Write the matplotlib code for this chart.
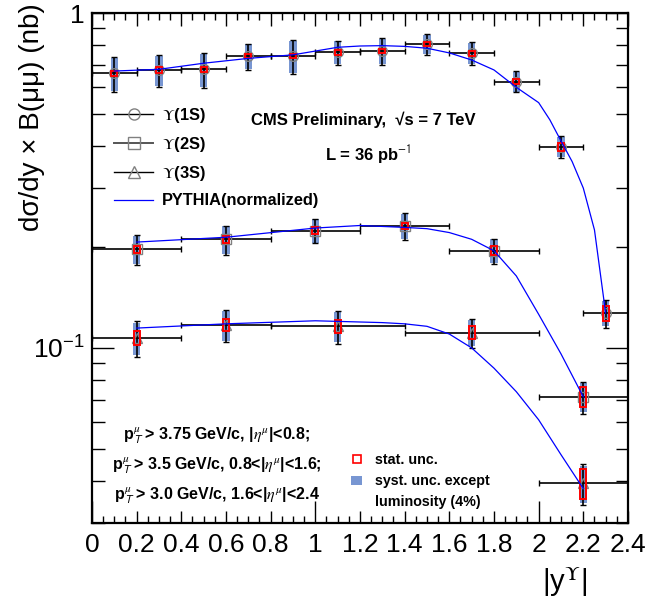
import matplotlib.pyplot as plt
import numpy as np
from matplotlib.lines import Line2D
from matplotlib.patches import Patch
from matplotlib.ticker import FixedLocator, LogLocator, NullFormatter

plt.rcParams['font.family'] = ['Liberation Sans', 'DejaVu Sans']
plt.rcParams['mathtext.fontset'] = 'stix'

# Upsilon(1S): bins of 0.2 in |y|
x_1s = [0.1, 0.3, 0.5, 0.7, 0.9, 1.1, 1.3, 1.5, 1.7, 1.9, 2.1, 2.3]
xerr_1s = [0.1] * 12
y_1s = [0.661, 0.676, 0.679, 0.744, 0.744, 0.763, 0.770, 0.808, 0.758, 0.624, 0.398, 0.127]
err_1s = [0.080, 0.075, 0.080, 0.066, 0.085, 0.064, 0.070, 0.058, 0.060, 0.045, 0.030, 0.012]
syst_1s = [0.075, 0.070, 0.076, 0.062, 0.080, 0.060, 0.066, 0.054, 0.056, 0.042, 0.027, 0.011]
stat_1s = [0.012, 0.012, 0.012, 0.012, 0.012, 0.012, 0.013, 0.013, 0.013, 0.012, 0.010, 0.0065]

# Upsilon(2S)
x_2s = [0.2, 0.6, 1.0, 1.4, 1.8, 2.2]
xerr_2s = [0.2, 0.2, 0.2, 0.2, 0.2, 0.2]
y_2s = [0.197, 0.211, 0.224, 0.231, 0.195, 0.0714]
err_2s = [0.020, 0.021, 0.019, 0.021, 0.017, 0.0078]
syst_2s = [0.019, 0.020, 0.018, 0.020, 0.016, 0.0072]
stat_2s = [0.005, 0.005, 0.005, 0.005, 0.006, 0.005]

# Upsilon(3S)
x_3s = [0.2, 0.6, 1.1, 1.7, 2.2]
xerr_3s = [0.2, 0.2, 0.3, 0.3, 0.2]
y_3s = [0.107, 0.117, 0.116, 0.111, 0.0395]
err_3s = [0.013, 0.013, 0.013, 0.011, 0.0055]
syst_3s = [0.012, 0.012, 0.012, 0.010, 0.005]
stat_3s = [0.005, 0.005, 0.005, 0.005, 0.004]

# PYTHIA (normalized) curves
pyth_1s_x = [0.1, 0.3, 0.5, 0.7, 0.9, 1.1, 1.2, 1.3, 1.4, 1.5, 1.6, 1.7, 1.8, 1.9, 2.0, 2.05, 2.1, 2.15, 2.2, 2.25, 2.3]
pyth_1s_y = [0.671, 0.679, 0.708, 0.732, 0.750, 0.790, 0.797, 0.799, 0.795, 0.785, 0.760, 0.724, 0.676, 0.600, 0.540, 0.480, 0.415, 0.360, 0.300, 0.225, 0.127]
pyth_2s_x = [0.2, 0.6, 1.0, 1.2, 1.4, 1.5, 1.6, 1.7, 1.8, 1.9, 2.0, 2.1, 2.2]
pyth_2s_y = [0.207, 0.214, 0.228, 0.232, 0.229, 0.227, 0.221, 0.211, 0.195, 0.164, 0.126, 0.096, 0.0714]
pyth_3s_x = [0.2, 0.6, 1.0, 1.3, 1.4, 1.5, 1.6, 1.7, 1.8, 1.9, 2.0, 2.1, 2.2]
pyth_3s_y = [0.1146, 0.118, 0.1205, 0.119, 0.118, 0.116, 0.110, 0.100, 0.087, 0.074, 0.061, 0.048, 0.038]

XTICKS = [0, 0.2, 0.4, 0.6, 0.8, 1.0, 1.2, 1.4, 1.6, 1.8, 2.0, 2.2, 2.4]
XTICK_LABELS = ['0', '0.2', '0.4', '0.6', '0.8', '1', '1.2', '1.4', '1.6', '1.8', '2', '2.2', '2.4']

BOX_COLOR = '#7896d2'
MARKER_GRAY = '#808080'
BOX_W = 0.032


def draw_state(ax, x, xerr, y, err, syst, stat, marker):
    y = np.array(y)
    syst = np.array(syst)
    stat = np.array(stat)
    ax.bar(x, 2 * syst, bottom=y - syst, width=BOX_W, color=BOX_COLOR, zorder=2)
    ax.errorbar(x, y, xerr=xerr, yerr=err, fmt=marker, ms=7, mfc='none', mec=MARKER_GRAY,
                mew=1.0, ecolor='k', elinewidth=1.2, capsize=2.3, capthick=1.2, zorder=3)
    ax.bar(x, 2 * stat, bottom=y - stat, width=BOX_W * 0.8, fill=False, edgecolor='red',
           linewidth=1.4, zorder=4)


fig = plt.figure(figsize=(6.46, 6.02), dpi=100)
ax = fig.add_axes([0.1424, 0.1312, 0.8297, 0.8472])

draw_state(ax, x_1s, xerr_1s, y_1s, err_1s, syst_1s, stat_1s, 'o')
draw_state(ax, x_2s, xerr_2s, y_2s, err_2s, syst_2s, stat_2s, 's')
draw_state(ax, x_3s, xerr_3s, y_3s, err_3s, syst_3s, stat_3s, '^')

ax.plot(pyth_1s_x, pyth_1s_y, color='#0000ff', lw=0.9, zorder=5)
ax.plot(pyth_2s_x, pyth_2s_y, color='#0000ff', lw=0.9, zorder=5)
ax.plot(pyth_3s_x, pyth_3s_y, color='#0000ff', lw=0.9, zorder=5)

ax.set_yscale('log')
ax.set_xlim(0, 2.4)
ax.set_ylim(0.0300, 1.0)

ax.set_xticks(XTICKS)
ax.set_xticklabels(XTICK_LABELS, fontsize=19)
ax.xaxis.set_minor_locator(FixedLocator(np.arange(0, 2.41, 0.05)))
ax.yaxis.set_major_locator(FixedLocator([0.1, 1.0]))
ax.set_yticklabels([r'$\mathdefault{10^{-1}}$', '1'], fontsize=19)
ax.yaxis.set_minor_locator(LogLocator(base=10, subs=np.arange(2, 10)))
ax.yaxis.set_minor_formatter(NullFormatter())

ax.tick_params(which='both', direction='in', top=True, right=True, width=1.0)
ax.xaxis.set_tick_params(which='major', length=9, pad=7)
ax.xaxis.set_tick_params(which='minor', length=5)
ax.yaxis.set_tick_params(which='major', length=16, pad=5)
ax.yaxis.set_tick_params(which='minor', length=9)
for t, lab in zip(ax.xaxis.get_major_ticks(), XTICK_LABELS):
    if lab in ('0', '1', '2'):
        t.tick1line.set_markersize(16)
for s in ax.spines.values():
    s.set_linewidth(1.6)

ax.set_xlabel(r'|y$^{\Upsilon}$|', fontsize=21, ha='right')
ax.xaxis.set_label_coords(0.925, -0.082)
ax.set_ylabel(u'd\u03c3/dy \u00d7 B(\u03bc\u03bc) (nb)', fontsize=20, ha='right')
ax.yaxis.set_label_coords(-0.088, 1.02)

leg_handles = [
    Line2D([], [], color='k', lw=1.0, marker='o', ms=8, mfc='none', mec=MARKER_GRAY),
    Line2D([], [], color='#555555', lw=1.4, marker='s', ms=8, mfc='none', mec=MARKER_GRAY),
    Line2D([], [], color='k', lw=1.0, marker='^', ms=8, mfc='none', mec=MARKER_GRAY),
    Line2D([], [], color='#0000ff', lw=0.9),
]
leg_labels = [r'$\Upsilon$(1S)', r'$\Upsilon$(2S)', r'$\Upsilon$(3S)', 'PYTHIA(normalized)']
leg = ax.legend(handles=leg_handles, labels=leg_labels, loc='upper left',
                bbox_to_anchor=(0.041, 0.818), frameon=False, borderpad=0, borderaxespad=0,
                handlelength=2.4, handletextpad=0.55, labelspacing=0.62,
                prop={'weight': 'bold', 'size': 11.8})
ax.add_artist(leg)

ax.text(0.506, 0.79, u'CMS Preliminary,  \u221as = 7 TeV', transform=ax.transAxes,
        ha='center', va='center', fontsize=12, fontweight='bold')
ax.text(0.515, 0.722, r'L = 36 pb$^{\mathsf{-1}}$', transform=ax.transAxes,
        ha='center', va='center', fontsize=12, fontweight='bold')

cuts = [r'p$_{\mathsf{T}}^{\mu}$ > 3.75 GeV/c, |$\eta^{\mu}$|<0.8;',
        r'p$_{\mathsf{T}}^{\mu}$ > 3.5 GeV/c, 0.8<|$\eta^{\mu}$|<1.6;',
        r'p$_{\mathsf{T}}^{\mu}$ > 3.0 GeV/c, 1.6<|$\eta^{\mu}$|<2.4']
for i, txt in enumerate(cuts):
    ax.text(0.233, 0.172 - i * 0.0588, txt, transform=ax.transAxes, ha='center',
            va='center', fontsize=11.5, fontweight='bold')

unc_handles = [Line2D([], [], ls='none', marker='s', ms=5.5, mfc='none', mec='red', mew=1.2),
               Patch(facecolor=BOX_COLOR, edgecolor='none'),
               Patch(facecolor='none', edgecolor='none')]
ax.legend(handles=unc_handles,
          labels=['stat. unc.', 'syst. unc. except', 'luminosity (4%)'],
          loc='upper left', bbox_to_anchor=(0.484, 0.137), frameon=False,
          borderpad=0, borderaxespad=0, handlelength=0.75, handleheight=0.55,
          handletextpad=0.9, labelspacing=0.5, prop={'weight': 'bold', 'size': 10.3})

fig.savefig('out.png', dpi=100)
